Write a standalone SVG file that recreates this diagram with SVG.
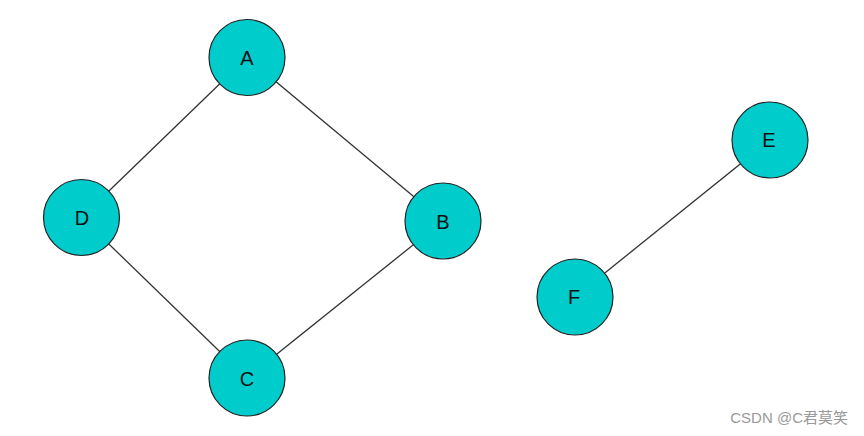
<svg xmlns="http://www.w3.org/2000/svg" width="864" height="436" viewBox="0 0 864 436">
<style>
.n{fill:#00CCCC;stroke:#222;stroke-width:1.2}
.t{font-family:"Liberation Sans",Arial,sans-serif;font-size:20px;fill:#111;text-anchor:middle;dominant-baseline:central}
.e{stroke:#333;stroke-width:1.3;fill:none}
</style>
<rect width="864" height="436" fill="#fff"/>
<g id="edges">
<line class="e" x1="247" y1="57.5" x2="81.5" y2="217.5"/>
<line class="e" x1="247" y1="57.5" x2="443" y2="221"/>
<line class="e" x1="81.5" y1="217.5" x2="247" y2="378"/>
<line class="e" x1="443" y1="221" x2="247" y2="378"/>
<line class="e" x1="770" y1="140" x2="575" y2="297"/>
</g>
<g id="A"><circle class="n" cx="247" cy="57.5" r="38"/><text class="t" x="247" y="58">A</text></g>
<g id="D"><circle class="n" cx="81.5" cy="217.5" r="38"/><text class="t" x="82" y="218">D</text></g>
<g id="B"><circle class="n" cx="443" cy="221" r="38"/><text class="t" x="443" y="222">B</text></g>
<g id="C"><circle class="n" cx="247" cy="378" r="38"/><text class="t" x="247" y="379">C</text></g>
<g id="E"><circle class="n" cx="770" cy="140" r="38"/><text class="t" x="769" y="140">E</text></g>
<g id="F"><circle class="n" cx="575" cy="297" r="38"/><text class="t" x="574" y="297">F</text></g>
<text x="848" y="423" font-family="'Liberation Sans','Noto Sans CJK SC',sans-serif" font-size="15" fill="#999" text-anchor="end">CSDN @C君莫笑</text>
</svg>
